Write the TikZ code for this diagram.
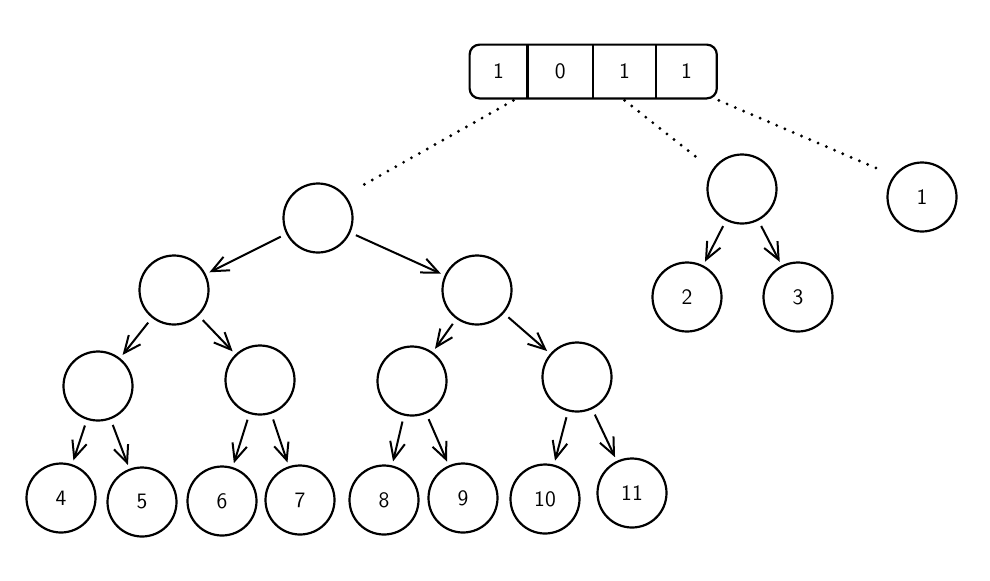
\documentclass[tikz,border=0pt]{standalone}
\usetikzlibrary{arrows.meta,positioning}
\tikzset{
  knot/.style={draw, circle, line width=1.1pt, minimum size=34.5pt, inner sep=0pt, font=\sffamily\fontsize{11}{13}\selectfont},
  cell/.style={minimum height=26.5pt, inner sep=0pt, font=\sffamily\fontsize{11}{13}\selectfont},
  link/.style={line width=1pt, -{Straight Barb[length=8.5pt, width=7.5pt, line width=1pt]}, shorten <=3pt, shorten >=2pt},
  dots/.style={line width=1.6pt, line cap=round, dash pattern=on 0pt off 4.5pt, shorten >=7pt}
}

\begin{document}
\begin{tikzpicture}[x=0.5pt, y=-0.5pt]
			%%%%% START %%%%%
			\useasboundingbox (0, 0) rectangle (990, 580);
			
			\node[cell, minimum width=28.5pt] (c1) at (498.5, 71.5) {1};
			\node[cell, minimum width=32.5pt, right=0pt of c1] (c2) {0};
			\node[cell, minimum width=31pt, right=0pt of c2] (c3) {1};
			\node[cell, minimum width=30pt, right=0pt of c3] (c4) {1};
			\draw[line width=1.1pt, rounded corners=5pt] (c1.north west) rectangle (c4.south east);
			\draw[line width=1.1pt] (c2.north west) -- (c2.south west);
			\draw[line width=1.1pt] (c3.north west) -- (c3.south west);
			\draw[line width=1.1pt] (c4.north west) -- (c4.south west);
			
			\node[knot] (root) at (318, 218) {};
			\node[knot] (a) at (174, 290) {};
			\node[knot] (b) at (477, 290) {};
			\node[knot] (aa) at (98, 386) {};
			\node[knot] (ab) at (260, 380) {};
			\node[knot] (ba) at (412, 381) {};
			\node[knot] (bb) at (577, 377) {};
			
			\node[knot] (n4) at (61, 498) {4};
			\node[knot] (n5) at (142, 502) {5};
			\node[knot] (n6) at (222, 501) {6};
			\node[knot] (n7) at (300, 500) {7};
			\node[knot] (n8) at (384, 500) {8};
			\node[knot] (n9) at (463, 498) {9};
			\node[knot] (n10) at (545, 499) {10};
			\node[knot] (n11) at (632, 493) {11};
			
			\node[knot] (r) at (742, 189) {};
			\node[knot] (n2) at (687, 297) {2};
			\node[knot] (n3) at (798, 297) {3};
			\node[knot] (n1) at (922, 197) {1};
			
			\draw[link] (root) -- (a);
			\draw[link] (root) -- (b);
			\draw[link] (a) -- (aa);
			\draw[link] (a) -- (ab);
			\draw[link] (b) -- (ba);
			\draw[link] (b) -- (bb);
			\draw[link] (aa) -- (n4);
			\draw[link] (aa) -- (n5);
			\draw[link] (ab) -- (n6);
			\draw[link] (ab) -- (n7);
			\draw[link] (ba) -- (n8);
			\draw[link] (ba) -- (n9);
			\draw[link] (bb) -- (n10);
			\draw[link] (bb) -- (n11);
			\draw[link] (r) -- (n2);
			\draw[link] (r) -- (n3);
			
			\draw[dots] ([xshift=-7pt, yshift=-1pt]c1.south east) -- (root.40);
			\draw[dots] ([yshift=-1pt]c3.south) -- (r.147);
			\draw[dots] ([xshift=1pt, yshift=-1pt]c4.south east) -- (n1.143);
			%%%%% END %%%%%
\end{tikzpicture}
\end{document}
